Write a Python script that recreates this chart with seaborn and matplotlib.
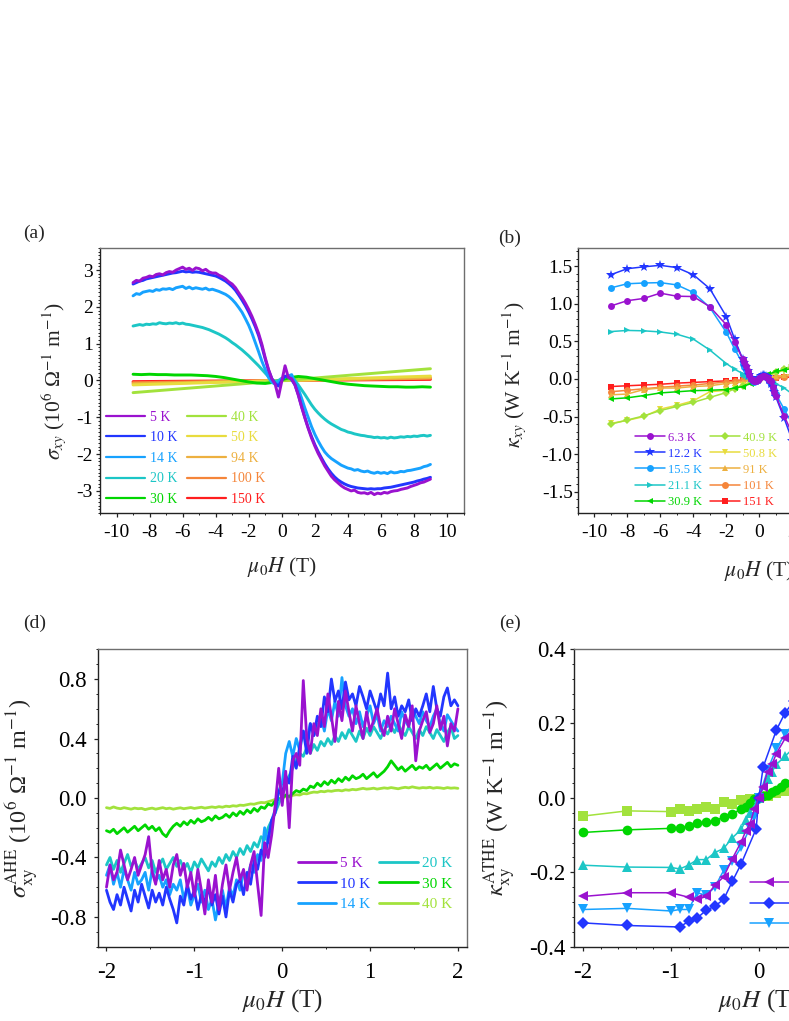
import numpy as np
import matplotlib
matplotlib.use("Agg")
import matplotlib.pyplot as plt
import seaborn as sns
from matplotlib.ticker import MultipleLocator, FormatStrFormatter

sns.set_style("ticks")
plt.rcParams["font.family"] = ["Liberation Serif", "DejaVu Serif"]
plt.rcParams["mathtext.fontset"] = "stix"
plt.rcParams["axes.unicode_minus"] = False

# ---------------------------------------------------------------- colours
C_PUR = "#9A12CF"
C_BLU = "#2236FF"
C_LBL = "#17A2FF"
C_CYA = "#1CC6C6"
C_GRN = "#00D600"
C_YGR = "#A2E23C"
C_YEL = "#E8DC3E"
C_OYE = "#EDB040"
C_ORA = "#F5853A"
C_RED = "#FF1E1E"

# ================================================================ panel (a)
a_labels = ["5 K", "10 K", "14 K", "20 K", "30 K", "40 K", "50 K", "94 K", "100 K", "150 K"]
a_colors = [C_PUR, C_BLU, C_LBL, C_CYA, C_GRN, C_YGR, C_YEL, C_OYE, C_ORA, C_RED]
xa = np.linspace(-9, 9, 91)
sig_5K = [2.66, 2.72, 2.70, 2.78, 2.80, 2.84, 2.82, 2.88, 2.90, 2.87,
          2.93, 2.96, 2.94, 3.00, 3.04, 3.08, 3.02, 3.05, 2.99, 3.06,
          3.04, 2.98, 3.02, 2.95, 2.92, 2.92, 2.86, 2.82, 2.76, 2.68,
          2.62, 2.52, 2.38, 2.25, 2.10, 1.93, 1.74, 1.52, 1.28, 0.98,
          0.62, 0.30, 0.05, -0.10, -0.45, -0.02, 0.40, 0.08, 0.05, -0.12,
          -0.40, -0.72, -1.02, -1.30, -1.56, -1.78, -1.98, -2.15, -2.32, -2.46,
          -2.60, -2.70, -2.78, -2.86, -2.92, -2.96, -3.00, -2.98, -3.04, -3.06,
          -3.05, -3.08, -3.04, -3.10, -3.06, -3.08, -3.04, -3.06, -3.02, -3.00,
          -2.99, -2.96, -2.94, -2.92, -2.88, -2.85, -2.82, -2.78, -2.76, -2.72,
          -2.68]
sig_10K = [2.62, 2.66, 2.70, 2.72, 2.76, 2.78, 2.80, 2.82, 2.84, 2.86,
           2.88, 2.90, 2.92, 2.93, 2.95, 2.97, 2.95, 2.96, 2.94, 2.95,
           2.94, 2.92, 2.90, 2.88, 2.86, 2.84, 2.80, 2.75, 2.70, 2.63,
           2.55, 2.45, 2.32, 2.18, 2.03, 1.86, 1.67, 1.46, 1.22, 0.92,
           0.58, 0.28, 0.05, -0.08, -0.15, 0.00, 0.12, 0.10, 0.02, -0.12,
           -0.38, -0.70, -1.00, -1.28, -1.52, -1.74, -1.93, -2.10, -2.26, -2.40,
           -2.52, -2.62, -2.70, -2.76, -2.81, -2.85, -2.88, -2.90, -2.92, -2.93,
           -2.94, -2.95, -2.94, -2.95, -2.94, -2.94, -2.92, -2.91, -2.90, -2.88,
           -2.86, -2.84, -2.82, -2.80, -2.78, -2.76, -2.73, -2.71, -2.68, -2.66,
           -2.63]
sig_14K = [2.30, 2.36, 2.34, 2.40, 2.42, 2.44, 2.42, 2.47, 2.45, 2.49,
           2.48, 2.50, 2.47, 2.52, 2.54, 2.56, 2.50, 2.54, 2.49, 2.52,
           2.50, 2.48, 2.51, 2.46, 2.48, 2.45, 2.42, 2.38, 2.34, 2.28,
           2.20, 2.10, 1.98, 1.85, 1.68, 1.50, 1.28, 1.03, 0.78, 0.52,
           0.30, 0.08, -0.05, -0.10, -0.05, 0.05, 0.10, 0.12, 0.16, -0.05,
           -0.22, -0.48, -0.75, -1.00, -1.25, -1.46, -1.64, -1.80, -1.94, -2.04,
           -2.12, -2.18, -2.24, -2.30, -2.34, -2.38, -2.40, -2.44, -2.42, -2.46,
           -2.48, -2.46, -2.50, -2.52, -2.49, -2.52, -2.50, -2.53, -2.48, -2.51,
           -2.50, -2.47, -2.48, -2.45, -2.44, -2.42, -2.40, -2.38, -2.34, -2.32,
           -2.28]
sig_20K = [1.48, 1.50, 1.52, 1.50, 1.53, 1.52, 1.54, 1.53, 1.57, 1.55,
           1.54, 1.56, 1.55, 1.57, 1.54, 1.56, 1.53, 1.52, 1.50, 1.48,
           1.46, 1.44, 1.41, 1.38, 1.34, 1.30, 1.26, 1.21, 1.16, 1.10,
           1.03, 0.97, 0.90, 0.83, 0.75, 0.67, 0.58, 0.49, 0.40, 0.30,
           0.20, 0.10, 0.02, -0.02, 0.00, 0.06, 0.10, 0.12, 0.08, 0.00,
           -0.12, -0.25, -0.38, -0.52, -0.66, -0.78, -0.88, -0.97, -1.05, -1.12,
           -1.18, -1.23, -1.28, -1.33, -1.36, -1.40, -1.42, -1.45, -1.47, -1.49,
           -1.50, -1.52, -1.53, -1.55, -1.54, -1.56, -1.55, -1.57, -1.54, -1.56,
           -1.55, -1.53, -1.54, -1.52, -1.53, -1.51, -1.52, -1.50, -1.49, -1.51,
           -1.49]
xa30 = np.linspace(-9, 9, 37)
sig_30K = [0.17, 0.16, 0.17, 0.16, 0.16, 0.15, 0.15, 0.15, 0.14, 0.13,
           0.11, 0.08, 0.04, 0.00, -0.04, -0.07, -0.08, -0.05, 0.02, 0.08,
           0.11, 0.09, 0.05, 0.01, -0.03, -0.07, -0.10, -0.12, -0.14, -0.15,
           -0.16, -0.17, -0.17, -0.18, -0.18, -0.17, -0.18]
xa_lin = [-9, 9]
sig_40K = [-0.33, 0.32]
sig_50K = [-0.12, 0.12]
sig_94K = [-0.09, 0.08]
sig_100K = [-0.06, 0.06]
sig_150K = [-0.03, 0.03]

# ================================================================ panel (b)
b_labels = ["6.3 K", "12.2 K", "15.5 K", "21.1 K", "30.9 K",
            "40.9 K", "50.8 K", "91 K", "101 K", "151 K"]
b_colors = [C_PUR, C_BLU, C_LBL, C_CYA, C_GRN, C_YGR, C_YEL, C_OYE, C_ORA, C_RED]
b_markers = ["o", "*", "o", ">", "<", "D", "v", "^", "o", "s"]
xb_low = [-9, -8, -7, -6, -5, -4, -3, -2, -1.5, -1, -0.9, -0.8, -0.7, -0.6, -0.5,
          -0.4, -0.3, -0.2, -0.1, 0, 0.1, 0.2, 0.3, 0.4, 0.5, 0.6, 0.7, 0.8, 0.9,
          1, 1.5, 2, 3, 4, 5, 6, 7, 8, 9]
xb_high = [-9, -8, -7, -6, -5, -4, -3, -2, -1.5, -1, -0.5, 0, 0.5, 1, 1.5, 2,
           3, 4, 5, 6, 7, 8, 9]
kap_6K = [0.97, 1.04, 1.07, 1.14, 1.10, 1.095, 0.96, 0.72, 0.49, 0.26, 0.22, 0.17,
          0.11, 0.05, 0.00, -0.02, -0.03, -0.03, -0.01, 0.01, 0.03, 0.045, 0.045,
          0.03, 0.01, -0.01, -0.03, -0.10, -0.17, -0.22, -0.49, -0.73, -0.96,
          -1.09, -1.10, -1.13, -1.07, -1.04, -0.97]
kap_12K = [1.385, 1.465, 1.49, 1.51, 1.48, 1.385, 1.20, 0.83, 0.53, 0.26, 0.21,
           0.16, 0.10, 0.05, 0.01, -0.02, -0.03, -0.03, -0.01, 0.01, 0.04, 0.05,
           0.05, 0.04, 0.02, -0.02, -0.06, -0.11, -0.17, -0.24, -0.52, -0.82,
           -1.20, -1.385, -1.48, -1.51, -1.49, -1.465, -1.385]
kap_15K = [1.21, 1.265, 1.275, 1.28, 1.25, 1.15, 0.95, 0.62, 0.40, 0.20, 0.16,
           0.12, 0.08, 0.04, 0.00, -0.03, -0.04, -0.03, -0.01, 0.01, 0.04, 0.05,
           0.05, 0.03, 0.00, -0.03, -0.07, -0.11, -0.15, -0.20, -0.40, -0.60,
           -0.95, -1.15, -1.25, -1.28, -1.275, -1.265, -1.21]
kap_21K = [0.63, 0.645, 0.64, 0.625, 0.595, 0.53, 0.385, 0.205, 0.13, 0.07, 0.055,
           0.04, 0.03, 0.02, 0.01, 0.00, -0.005, 0.00, 0.005, 0.01, 0.02, 0.025,
           0.025, 0.02, 0.01, 0.00, -0.01, -0.025, -0.04, -0.06, -0.12, -0.20,
           -0.385, -0.53, -0.595, -0.625, -0.64, -0.645, -0.63]
kap_31K = [-0.265, -0.25, -0.22, -0.185, -0.17, -0.155, -0.15, -0.14, -0.12, -0.10,
           -0.06, 0.00, 0.06, 0.10, 0.12, 0.14, 0.15, 0.155, 0.17, 0.185, 0.22,
           0.25, 0.265]
kap_41K = [-0.60, -0.545, -0.49, -0.42, -0.365, -0.31, -0.245, -0.18, -0.13, -0.09,
           -0.045, 0.00, 0.045, 0.09, 0.13, 0.18, 0.245, 0.31, 0.365, 0.42, 0.49,
           0.545, 0.60]
kap_51K = [-0.59, -0.55, -0.50, -0.40, -0.35, -0.29, -0.17, -0.15, -0.12, -0.08,
           -0.04, 0.00, 0.04, 0.08, 0.12, 0.15, 0.17, 0.29, 0.35, 0.40, 0.50,
           0.55, 0.59]
kap_91K = [-0.21, -0.20, -0.14, -0.12, -0.12, -0.10, -0.09, -0.06, -0.05, -0.035,
           -0.015, 0.00, 0.015, 0.035, 0.05, 0.06, 0.09, 0.10, 0.12, 0.12, 0.14,
           0.20, 0.21]
kap_101K = [-0.17, -0.15, -0.13, -0.11, -0.095, -0.08, -0.06, -0.04, -0.03, -0.02,
            -0.01, 0.00, 0.01, 0.02, 0.03, 0.04, 0.06, 0.08, 0.095, 0.11, 0.13,
            0.15, 0.17]
kap_151K = [-0.10, -0.09, -0.08, -0.07, -0.055, -0.045, -0.035, -0.025, -0.02,
            -0.015, -0.008, 0.00, 0.008, 0.015, 0.02, 0.025, 0.035, 0.045, 0.055,
            0.07, 0.08, 0.09, 0.10]

# ================================================================ panel (d)
d_labels = ["5 K", "10 K", "14 K", "20 K", "30 K", "40 K"]
d_colors = [C_PUR, C_BLU, C_LBL, C_CYA, C_GRN, C_YGR]
xd = np.linspace(-2, 2, 101)
ahe_5K = [-0.60, -0.45, -0.55, -0.50, -0.35, -0.45, -0.55, -0.48, -0.40, -0.52,
          -0.45, -0.38, -0.26, -0.50, -0.58, -0.42, -0.55, -0.48, -0.60, -0.45,
          -0.38, -0.52, -0.44, -0.60, -0.50, -0.66, -0.48, -0.62, -0.78, -0.55,
          -0.70, -0.52, -0.75, -0.58, -0.45, -0.62, -0.50, -0.40, -0.55, -0.48,
          -0.62, -0.45, -0.36, -0.58, -0.79, -0.30, -0.40, -0.25, -0.05, 0.20,
          -0.05, 0.18, -0.20, 0.25, 0.30, 0.22, 0.79, 0.40, 0.30, 0.50,
          0.42, 0.60, 0.48, 0.70, 0.55, 0.38, 0.65, 0.52, 0.72, 0.58,
          0.45, 0.62, 0.50, 0.40, 0.58, 0.45, 0.52, 0.60, 0.48, 0.42,
          0.55, 0.45, 0.60, 0.50, 0.40, 0.56, 0.48, 0.62, 0.25, 0.45,
          0.52, 0.58, 0.44, 0.50, 0.62, 0.46, 0.55, 0.35, 0.50, 0.45, 0.60]
ahe_10K = [-0.62, -0.70, -0.75, -0.65, -0.72, -0.60, -0.68, -0.76, -0.62, -0.70,
           -0.58, -0.66, -0.74, -0.62, -0.70, -0.64, -0.72, -0.60, -0.68, -0.75,
           -0.84, -0.66, -0.72, -0.58, -0.68, -0.62, -0.75, -0.65, -0.70, -0.60,
           -0.72, -0.65, -0.78, -0.66, -0.80, -0.62, -0.70, -0.58, -0.55, -0.65,
           -0.50, -0.58, -0.42, -0.48, -0.35, -0.40, -0.28, -0.15, -0.10, 0.05,
           0.02, 0.15, 0.10, 0.28, 0.20, 0.35, 0.45, 0.30, 0.50, 0.42,
           0.55, 0.48, 0.68, 0.58, 0.80, 0.65, 0.72, 0.60, 0.78, 0.66,
           0.70, 0.62, 0.75, 0.68, 0.60, 0.72, 0.65, 0.58, 0.70, 0.62,
           0.84, 0.60, 0.68, 0.55, 0.62, 0.58, 0.66, 0.52, 0.60, 0.55,
           0.62, 0.70, 0.58, 0.75, 0.60, 0.55, 0.68, 0.74, 0.62, 0.66, 0.62]
ahe_14K = [-0.52, -0.45, -0.58, -0.50, -0.60, -0.48, -0.55, -0.62, -0.50, -0.58,
           -0.55, -0.50, -0.62, -0.48, -0.56, -0.52, -0.60, -0.55, -0.65, -0.58,
           -0.62, -0.55, -0.68, -0.60, -0.72, -0.65, -0.58, -0.70, -0.62, -0.75,
           -0.68, -0.82, -0.70, -0.62, -0.74, -0.60, -0.66, -0.55, -0.62, -0.50,
           -0.55, -0.45, -0.50, -0.38, -0.42, -0.20, -0.30, -0.15, -0.08, 0.05,
           0.10, 0.30, 0.38, 0.28, 0.40, 0.32, 0.45, 0.38, 0.50, 0.42,
           0.48, 0.55, 0.45, 0.60, 0.52, 0.65, 0.55, 0.81, 0.62, 0.55,
           0.60, 0.50, 0.58, 0.48, 0.55, 0.62, 0.50, 0.56, 0.45, 0.52,
           0.48, 0.55, 0.50, 0.45, 0.58, 0.52, 0.48, 0.60, 0.55, 0.50,
           0.58, 0.52, 0.48, 0.55, 0.60, 0.50, 0.45, 0.56, 0.52, 0.48, 0.45]
ahe_20K = [-0.45, -0.40, -0.48, -0.42, -0.50, -0.44, -0.38, -0.46, -0.42, -0.48,
           -0.44, -0.40, -0.47, -0.42, -0.50, -0.45, -0.41, -0.48, -0.44, -0.40,
           -0.46, -0.42, -0.48, -0.44, -0.50, -0.43, -0.47, -0.41, -0.45, -0.49,
           -0.43, -0.46, -0.40, -0.44, -0.38, -0.42, -0.36, -0.40, -0.34, -0.38,
           -0.32, -0.36, -0.30, -0.33, -0.26, -0.28, -0.20, -0.15, -0.10, -0.04,
           0.02, 0.08, 0.15, 0.20, 0.26, 0.30, 0.28, 0.34, 0.30, 0.36,
           0.32, 0.38, 0.35, 0.40, 0.36, 0.42, 0.38, 0.44, 0.40, 0.46,
           0.42, 0.38, 0.45, 0.40, 0.47, 0.42, 0.48, 0.44, 0.40, 0.46,
           0.43, 0.48, 0.44, 0.50, 0.45, 0.42, 0.48, 0.44, 0.40, 0.46,
           0.42, 0.48, 0.44, 0.40, 0.46, 0.42, 0.38, 0.44, 0.48, 0.40, 0.42]
ahe_30K = [-0.22, -0.23, -0.21, -0.24, -0.22, -0.20, -0.23, -0.21, -0.19, -0.22,
           -0.20, -0.18, -0.21, -0.19, -0.22, -0.20, -0.24, -0.26, -0.22, -0.19,
           -0.17, -0.19, -0.16, -0.18, -0.15, -0.17, -0.14, -0.16, -0.15, -0.13,
           -0.15, -0.12, -0.14, -0.13, -0.11, -0.13, -0.10, -0.12, -0.09, -0.11,
           -0.08, -0.10, -0.07, -0.09, -0.06, -0.07, -0.04, -0.05, -0.02, -0.01,
           0.00, 0.02, 0.01, 0.03, 0.05, 0.04, 0.06, 0.05, 0.08, 0.07,
           0.10, 0.08, 0.11, 0.09, 0.12, 0.10, 0.13, 0.11, 0.14, 0.12,
           0.15, 0.13, 0.14, 0.16, 0.13, 0.15, 0.17, 0.14, 0.16, 0.18,
           0.21, 0.25, 0.22, 0.19, 0.21, 0.18, 0.20, 0.22, 0.19, 0.21,
           0.20, 0.22, 0.19, 0.21, 0.23, 0.20, 0.22, 0.24, 0.21, 0.23, 0.22]
ahe_40K = [-0.065, -0.07, -0.06, -0.068, -0.072, -0.065, -0.07, -0.075, -0.068, -0.072,
           -0.07, -0.078, -0.072, -0.068, -0.075, -0.07, -0.065, -0.072, -0.068, -0.075,
           -0.07, -0.066, -0.072, -0.068, -0.064, -0.07, -0.066, -0.062, -0.068, -0.064,
           -0.06, -0.064, -0.058, -0.062, -0.055, -0.058, -0.052, -0.055, -0.048, -0.05,
           -0.045, -0.04, -0.042, -0.035, -0.03, -0.032, -0.025, -0.018, -0.01, -0.005,
           0.0, 0.01, 0.005, 0.018, 0.022, 0.02, 0.03, 0.028, 0.035, 0.04,
           0.038, 0.045, 0.042, 0.048, 0.045, 0.05, 0.052, 0.048, 0.055, 0.052,
           0.058, 0.055, 0.06, 0.065, 0.06, 0.062, 0.066, 0.06, 0.064, 0.068,
           0.065, 0.07, 0.066, 0.062, 0.068, 0.072, 0.068, 0.075, 0.07, 0.066,
           0.07, 0.068, 0.072, 0.066, 0.07, 0.068, 0.064, 0.07, 0.066, 0.068, 0.065]

# ================================================================ panel (e)
e_labels = ["5 K", "10 K", "14 K", "20 K", "30 K", "40 K"]
e_colors = [C_PUR, C_BLU, C_LBL, C_CYA, C_GRN, C_YGR]
e_markers = ["<", "D", "v", "^", "o", "s"]
xe_5K = [-2, -1.5, -1, -0.8, -0.7, -0.6, -0.5, -0.4, -0.3, -0.2, -0.15, -0.1, -0.05,
         0, 0.05, 0.1, 0.15, 0.2, 0.3, 0.4, 0.5, 0.6, 0.7, 0.8, 1, 1.5, 2]
at_5K = [-0.265, -0.255, -0.255, -0.267, -0.273, -0.265, -0.235, -0.212, -0.163,
         -0.118, -0.09, -0.069, -0.03, 0.0, 0.03, 0.07, 0.09, 0.119, 0.16, 0.19,
         0.21, 0.23, 0.245, 0.25, 0.255, 0.255, 0.265]
xe_10K = [-2, -1.5, -0.9, -0.8, -0.7, -0.6, -0.5, -0.4, -0.3, -0.2, -0.03, 0, 0.05,
          0.2, 0.3, 0.4, 0.5, 0.6, 0.7, 0.8, 0.9, 1.5, 2]
at_10K = [-0.336, -0.343, -0.347, -0.332, -0.323, -0.302, -0.291, -0.273, -0.224,
          -0.177, -0.083, 0.0, 0.083, 0.182, 0.229, 0.26, 0.28, 0.29, 0.30, 0.32,
          0.33, 0.34, 0.335]
xe_14K = [-2, -1.5, -1, -0.9, -0.8, -0.7, -0.6, -0.5, -0.4, -0.3, -0.2, -0.1, -0.05,
          0, 0.1, 0.2, 0.3, 0.4, 0.5, 0.6, 0.7, 0.8, 0.9, 1, 1.5, 2]
at_14K = [-0.30, -0.297, -0.304, -0.30, -0.30, -0.255, -0.262, -0.24, -0.195, -0.171,
          -0.132, -0.08, -0.051, 0.0, 0.075, 0.133, 0.172, 0.20, 0.23, 0.25, 0.26,
          0.27, 0.28, 0.29, 0.297, 0.30]
xe_20K = [-2, -1.5, -1, -0.9, -0.8, -0.7, -0.6, -0.5, -0.4, -0.3, -0.2, -0.15, -0.1,
          0, 0.1, 0.15, 0.2, 0.3, 0.4, 0.5, 0.6, 0.7, 0.8, 0.9, 1, 1.5, 2]
at_20K = [-0.181, -0.186, -0.187, -0.191, -0.181, -0.166, -0.166, -0.147, -0.136,
          -0.107, -0.085, -0.06, -0.04, 0.0, 0.05, 0.07, 0.09, 0.112, 0.135, 0.147,
          0.163, 0.165, 0.18, 0.19, 0.187, 0.186, 0.181]
xe_30K = [-2, -1.5, -1, -0.9, -0.8, -0.7, -0.6, -0.5, -0.4, -0.3, -0.2, -0.15, -0.1,
          -0.05, 0, 0.05, 0.1, 0.15, 0.2, 0.25, 0.3, 0.4, 0.5, 0.6, 0.7, 0.8, 0.9,
          1, 1.5, 2]
at_30K = [-0.093, -0.086, -0.082, -0.081, -0.076, -0.067, -0.066, -0.061, -0.052,
          -0.043, -0.03, -0.024, -0.015, -0.004, 0.0, 0.005, 0.009, 0.015, 0.022,
          0.03, 0.04, 0.047, 0.06, 0.066, 0.067, 0.076, 0.081, 0.082, 0.086, 0.093]
xe_40K = [-2, -1.5, -1, -0.9, -0.8, -0.7, -0.6, -0.5, -0.4, -0.3, -0.2, -0.1, 0,
          0.1, 0.2, 0.3, 0.4, 0.5, 0.6, 0.7, 0.8, 0.9, 1, 1.5, 2]
at_40K = [-0.049, -0.035, -0.037, -0.03, -0.035, -0.03, -0.024, -0.029, -0.012,
          -0.016, -0.006, -0.003, 0.0, 0.005, 0.013, 0.018, 0.015, 0.025, 0.024,
          0.03, 0.035, 0.03, 0.037, 0.035, 0.049]

# ================================================================ figure
W, H = 789, 1021
fig = plt.figure(figsize=(W / 100, H / 100), dpi=100)


def add_ax(l, t, r, b):
    return fig.add_axes([l / W, 1 - b / H, (r - l) / W, (b - t) / H])


axA = add_ax(100, 248, 463.5, 513)
axB = add_ax(577.7, 248, 941, 513)
axD = add_ax(97.7, 649.3, 466.7, 946.7)
axE = add_ax(574.3, 649, 943.3, 946.7)


def style(ax, fs, ypad, xpad):
    for s in ["left", "bottom"]:
        ax.spines[s].set_color("#222222")
    for s in ["top", "right"]:
        ax.spines[s].set_color("#6e6e6e")
    for s in ax.spines.values():
        s.set_linewidth(1.0)
        s.set_visible(True)
    ax.tick_params(which="both", direction="out", top=False, right=False,
                   colors="#222222", labelcolor="black", labelsize=fs)
    ax.tick_params(which="major", length=3, width=0.9)
    ax.tick_params(which="minor", length=1.6, width=0.7)
    ax.tick_params(axis="y", which="major", pad=ypad)
    ax.tick_params(axis="x", which="major", pad=xpad)
    ax.grid(False)
    ax.set_facecolor("white")


def color_legend(leg):
    for txt, ln in zip(leg.get_texts(), leg.get_lines()):
        txt.set_color(ln.get_color())


# ---------------------------------------------------------------- (a)
a_x = [xa, xa, xa, xa, xa30, xa_lin, xa_lin, xa_lin, xa_lin, xa_lin]
a_y = [sig_5K, sig_10K, sig_14K, sig_20K, sig_30K, sig_40K, sig_50K, sig_94K,
       sig_100K, sig_150K]
for i in reversed(range(len(a_labels))):
    sns.lineplot(x=np.asarray(a_x[i]), y=np.asarray(a_y[i]), ax=axA, color=a_colors[i],
                 linewidth=2.1, label=a_labels[i], errorbar=None, sort=False)
h, l = axA.get_legend_handles_labels()
hd = dict(zip(l, h))
axA.set_xlim(-11, 11)
axA.set_ylim(-3.6, 3.6)
axA.xaxis.set_major_locator(MultipleLocator(2))
axA.xaxis.set_minor_locator(MultipleLocator(1))
axA.yaxis.set_major_locator(MultipleLocator(1))
axA.yaxis.set_minor_locator(MultipleLocator(0.1))
style(axA, 14, 2.0, 5.0)
axA.set_xlabel(r"$\mu_0H$ (T)", fontsize=15.5)
axA.set_ylabel(r"$\sigma_{xy}$ (10$^{6}$ Ω$^{-1}$ m$^{-1}$)", fontsize=15.5)
axA.xaxis.set_label_coords(0.5, -0.158)
axA.yaxis.set_label_coords(-0.088, 0.5)
legA = axA.legend([hd[k] for k in a_labels], a_labels, ncol=2, frameon=False,
                  loc="upper left", bbox_to_anchor=(106.5 / W, 1 - 410.5 / H),
                  bbox_transform=fig.transFigure, borderpad=0, borderaxespad=0,
                  fontsize=10, handlelength=2.8, handletextpad=0.3,
                  columnspacing=0.75, labelspacing=0.55)
for ln in legA.get_lines():
    ln.set_linewidth(1.6)
color_legend(legA)

# ---------------------------------------------------------------- (b)
b_x = [xb_low, xb_low, xb_low, xb_low, xb_high, xb_high, xb_high, xb_high,
       xb_high, xb_high]
b_y = [kap_6K, kap_12K, kap_15K, kap_21K, kap_31K, kap_41K, kap_51K, kap_91K,
       kap_101K, kap_151K]
b_ms = [5, 7, 5, 5, 5, 4.2, 5, 5, 5, 4.5]
for i in reversed(range(len(b_labels))):
    sns.lineplot(x=np.asarray(b_x[i], float), y=np.asarray(b_y[i], float), ax=axB,
                 color=b_colors[i], linewidth=1.1, marker=b_markers[i],
                 markersize=b_ms[i], markeredgewidth=0, label=b_labels[i],
                 errorbar=None, sort=False)
h, l = axB.get_legend_handles_labels()
hd = dict(zip(l, h))
axB.set_xlim(-11, 11)
axB.set_ylim(-1.78, 1.74)
axB.xaxis.set_major_locator(MultipleLocator(2))
axB.xaxis.set_minor_locator(MultipleLocator(1))
axB.yaxis.set_major_locator(MultipleLocator(0.5))
axB.yaxis.set_minor_locator(MultipleLocator(0.1))
axB.yaxis.set_major_formatter(FormatStrFormatter("%.1f"))
style(axB, 14, 0.6, 5.0)
axB.set_xlabel(r"$\mu_0H$ (T)", fontsize=15.5)
axB.set_ylabel(r"$\kappa_{xy}$ (W K$^{-1}$ m$^{-1}$)", fontsize=15.5)
axB.xaxis.set_label_coords(0.5, -0.172)
axB.yaxis.set_label_coords(-0.137, 0.52)
legB = axB.legend([hd[k] for k in b_labels], b_labels, ncol=2, frameon=False,
                  loc="upper left", bbox_to_anchor=(635 / W, 1 - 431.5 / H),
                  bbox_transform=fig.transFigure, borderpad=0, borderaxespad=0,
                  fontsize=9, handlelength=2.4, handletextpad=0.2,
                  columnspacing=0.7, labelspacing=0.33)
color_legend(legB)

# ---------------------------------------------------------------- (d)
d_y = [ahe_5K, ahe_10K, ahe_14K, ahe_20K, ahe_30K, ahe_40K]
for i in reversed(range(len(d_labels))):
    sns.lineplot(x=xd, y=np.asarray(d_y[i]), ax=axD, color=d_colors[i], linewidth=2.0,
                 label=d_labels[i], errorbar=None, sort=False)
h, l = axD.get_legend_handles_labels()
hd = dict(zip(l, h))
axD.set_xlim(-2.1, 2.1)
axD.set_ylim(-1.0, 1.0)
axD.xaxis.set_major_locator(MultipleLocator(1))
axD.xaxis.set_minor_locator(MultipleLocator(0.5))
axD.yaxis.set_major_locator(MultipleLocator(0.4))
axD.yaxis.set_minor_locator(MultipleLocator(0.1))
axD.yaxis.set_major_formatter(FormatStrFormatter("%.1f"))
style(axD, 16.5, 5.0, 8.0)
axD.set_xlabel(r"$\mu_0H$ (T)", fontsize=18)
axD.set_ylabel(r"$\sigma_{\rm xy}^{\rm AHE}$ (10$^{6}$ Ω$^{-1}$ m$^{-1}$)", fontsize=17.5)
axD.xaxis.set_label_coords(0.5, -0.135)
axD.yaxis.set_label_coords(-0.157, 0.5)
legD = axD.legend([hd[k] for k in d_labels], d_labels, ncol=2, frameon=False,
                  loc="upper left", bbox_to_anchor=(297.5 / W, 1 - 856.5 / H),
                  bbox_transform=fig.transFigure, borderpad=0, borderaxespad=0,
                  fontsize=11, handlelength=2.55, handletextpad=0.25,
                  columnspacing=0.55, labelspacing=0.45)
color_legend(legD)

# ---------------------------------------------------------------- (e)
e_x = [xe_5K, xe_10K, xe_14K, xe_20K, xe_30K, xe_40K]
e_y = [at_5K, at_10K, at_14K, at_20K, at_30K, at_40K]
e_ms = [7, 6, 7, 7, 7, 6.5]
for i in reversed(range(len(e_labels))):
    sns.lineplot(x=np.asarray(e_x[i], float), y=np.asarray(e_y[i], float), ax=axE,
                 color=e_colors[i], linewidth=1.1, marker=e_markers[i],
                 markersize=e_ms[i], markeredgewidth=0, label=e_labels[i],
                 errorbar=None, sort=False)
h, l = axE.get_legend_handles_labels()
hd = dict(zip(l, h))
axE.set_xlim(-2.1, 2.1)
axE.set_ylim(-0.4, 0.4)
axE.xaxis.set_major_locator(MultipleLocator(1))
axE.xaxis.set_minor_locator(MultipleLocator(0.2))
axE.yaxis.set_major_locator(MultipleLocator(0.2))
axE.yaxis.set_minor_locator(MultipleLocator(0.04))
axE.yaxis.set_major_formatter(FormatStrFormatter("%.1f"))
style(axE, 16.5, 3.5, 8.0)
axE.set_xlabel(r"$\mu_0H$ (T)", fontsize=18)
axE.set_ylabel(r"$\kappa_{\rm xy}^{\rm ATHE}$ (W K$^{-1}$ m$^{-1}$)", fontsize=17.5)
axE.xaxis.set_label_coords(0.5, -0.137)
axE.yaxis.set_label_coords(-0.152, 0.5)
legE = axE.legend([hd[k] for k in e_labels], e_labels, ncol=2, frameon=False,
                  loc="upper left", bbox_to_anchor=(750 / W, 1 - 877 / H),
                  bbox_transform=fig.transFigure, borderpad=0, borderaxespad=0,
                  fontsize=11, handlelength=2.55, handletextpad=0.25,
                  columnspacing=0.55, labelspacing=0.45)
color_legend(legE)

# ---------------------------------------------------------------- panel tags
for tag, px, py in [("(a)", 23, 233), ("(b)", 498, 238), ("(d)", 23, 623), ("(e)", 499, 623)]:
    fig.text(px / W, 1 - py / H, tag, fontsize=14, ha="left", va="center")

fig.savefig("out.png", dpi=100, facecolor="white")
